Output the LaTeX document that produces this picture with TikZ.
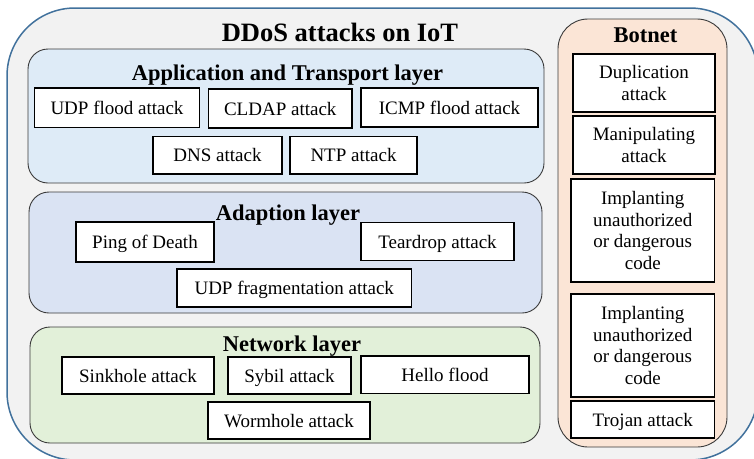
\documentclass[tikz,border=0pt]{standalone}
\usepackage{fontspec}
\setmainfont{Liberation Serif}
\definecolor{outerfill}{HTML}{F2F2F2}
\definecolor{outerline}{HTML}{41719C}
\definecolor{appfill}{HTML}{DEEBF7}
\definecolor{adafill}{HTML}{DAE3F3}
\definecolor{netfill}{HTML}{E2F0D9}
\definecolor{botfill}{HTML}{FBE5D6}
\definecolor{panelline}{HTML}{3A3A3A}
\tikzset{
  attackbox/.style={draw=black, line width=1.6pt, fill=white, inner sep=0pt, align=center,
    font=\fontsize{19}{21.7}\selectfont},
  oneline/.style={attackbox, text height=13pt, text depth=0pt},
  panelbox/.style={draw=panelline, line width=0.9pt, inner sep=0pt, rounded corners=20pt},
  paneltitle/.style={anchor=base, inner sep=0pt, font=\fontsize{22.5}{26}\selectfont\bfseries},
}
\begin{document}
\begin{tikzpicture}[x=1pt, y=-1pt]
\useasboundingbox (0,0) rectangle (754,458);
% outer container
\node[draw=outerline, line width=1.5pt, fill=outerfill, rounded corners=68pt, inner sep=0pt,
  minimum width=751pt, minimum height=452pt] (outer) at (382.5,234) {};
\node[anchor=base, inner sep=0pt, font=\fontsize{26.5}{30}\selectfont\bfseries] (title) at (340,41) {DDoS attacks on IoT};

% Application and Transport layer
\node[panelbox, fill=appfill, minimum width=516pt, minimum height=134pt] (app) at (286,116) {};
\node[paneltitle] (apptitle) at (287.5,80) {Application and Transport layer};
\node[oneline, minimum width=165pt, minimum height=39.5pt] (udp) at (117,107.75) {UDP flood attack};
\node[oneline, minimum width=143.5pt, minimum height=39pt] (cldap) at (280.25,108.5) {CLDAP attack};
\node[oneline, minimum width=177pt, minimum height=39pt] (icmp) at (449.5,107.5) {ICMP flood attack};
\node[oneline, minimum width=129pt, minimum height=37.5pt] (dns) at (217.5,155.25) {DNS attack};
\node[oneline, minimum width=127pt, minimum height=37.5pt] (ntp) at (353.5,155.25) {NTP attack};

% Adaption layer
\node[panelbox, fill=adafill, minimum width=513pt, minimum height=121pt] (ada) at (285.5,252.5) {};
\node[paneltitle] (adatitle) at (288,220) {Adaption layer};
\node[oneline, minimum width=138pt, minimum height=40pt] (ping) at (145,242) {Ping of Death};
\node[oneline, minimum width=153pt, minimum height=38pt] (tear) at (437.5,241.5) {Teardrop attack};
\node[oneline, minimum width=234.5pt, minimum height=38pt] (frag) at (294.25,288) {UDP fragmentation attack};

% Network layer
\node[panelbox, fill=netfill, minimum width=510pt, minimum height=116pt] (net) at (285,385) {};
\node[paneltitle] (nettitle) at (292,351) {Network layer};
\node[oneline, minimum width=152pt, minimum height=37pt] (sink) at (138,375.5) {Sinkhole attack};
\node[oneline, minimum width=123pt, minimum height=37pt] (sybil) at (289.5,375.5) {Sybil attack};
\node[oneline, minimum width=168pt, minimum height=37.5pt] (hello) at (445,374.75) {Hello flood};
\node[oneline, minimum width=162pt, minimum height=37pt] (worm) at (289,420.5) {Wormhole attack};

% Botnet
\node[panelbox, fill=botfill, rounded corners=30pt, minimum width=169pt, minimum height=428pt] (bot) at (642.5,233) {};
\node[paneltitle] (bottitle) at (645.5,42) {Botnet};
\node[attackbox, minimum width=142pt, minimum height=58pt] (dup) at (644,83) {Duplication\\attack};
\node[attackbox, minimum width=142pt, minimum height=58pt] (manip) at (644,145) {Manipulating\\attack};
\node[attackbox, minimum width=143.5pt, minimum height=103pt] (impA) at (642.75,230.5) {Implanting\\unauthorized\\or dangerous\\code};
\node[attackbox, minimum width=143.5pt, minimum height=103pt] (impB) at (642.75,345.5) {Implanting\\unauthorized\\or dangerous\\code};
\node[oneline, minimum width=143.5pt, minimum height=37pt] (trojan) at (642.75,419.5) {Trojan attack};
\end{tikzpicture}
\end{document}
